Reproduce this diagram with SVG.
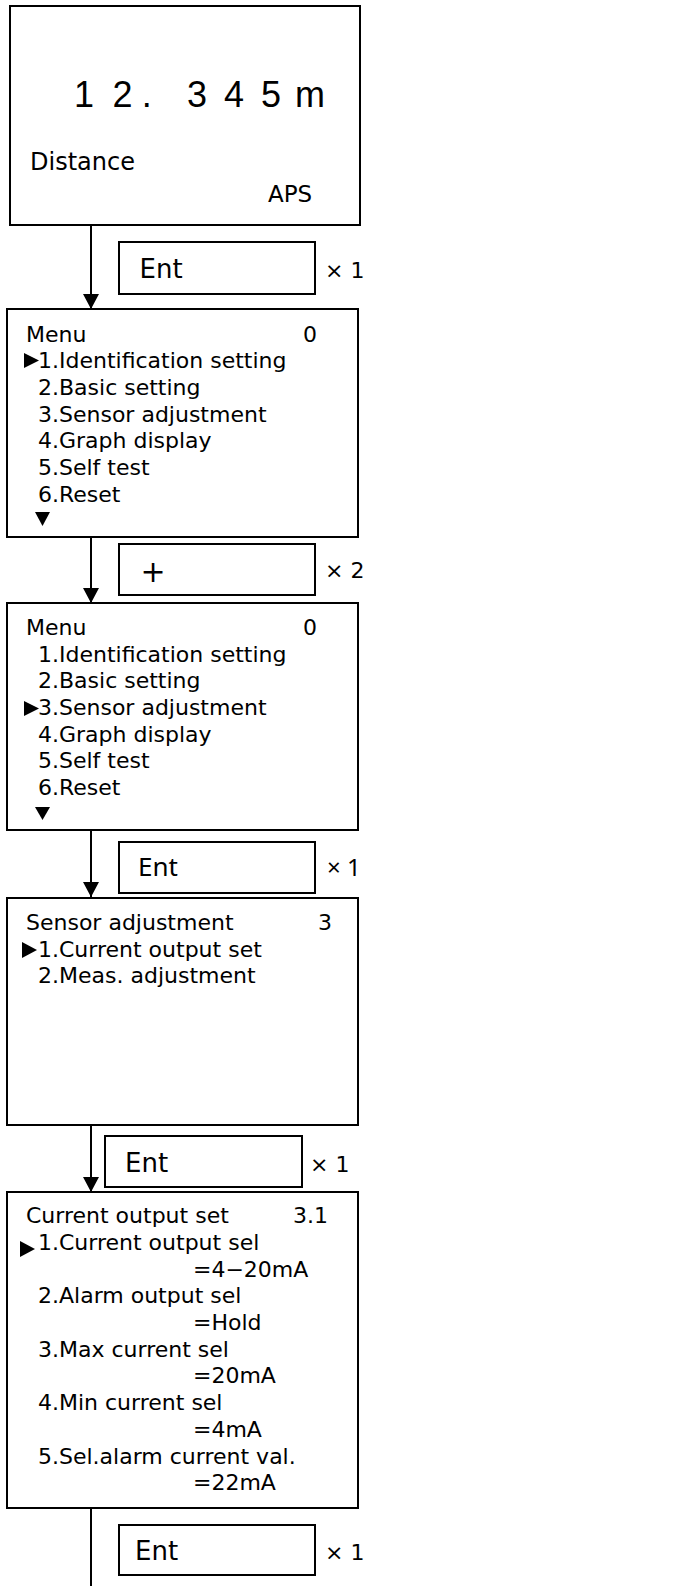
<svg xmlns="http://www.w3.org/2000/svg" width="683" height="1586" viewBox="0 0 683 1586">
<style>
.box{fill:#fff;stroke:#000;stroke-width:2}
.key{fill:#fff;stroke:#000;stroke-width:2}
.t{font-family:"DejaVu Sans",sans-serif;font-size:22px;fill:#000}
.k{font-family:"DejaVu Sans",sans-serif;font-size:26px;fill:#000}
.x{font-family:"DejaVu Sans",sans-serif;font-size:22px;fill:#000}
.kb{font-family:"Noto Sans",sans-serif;font-size:26px;fill:#000}
.xb{font-family:"Noto Sans",sans-serif;font-size:24px;fill:#000}
.big{font-family:"Liberation Sans",sans-serif;font-size:36px;fill:#000;text-anchor:middle}
.conn{stroke:#000;stroke-width:2;fill:none}
.mark{fill:#000}
</style>
<defs>
<marker id="ah" markerUnits="userSpaceOnUse" markerWidth="16" markerHeight="16" viewBox="0 0 16 16" refX="15" refY="8" orient="auto">
<path d="M0,0 L15,8 L0,16 Z" fill="#000"/>
</marker>
</defs>
<g id="connectors">
<line class="conn" x1="91" y1="225" x2="91" y2="309" marker-end="url(#ah)"/>
<line class="conn" x1="91" y1="537" x2="91" y2="603" marker-end="url(#ah)"/>
<line class="conn" x1="91" y1="830" x2="91" y2="897" marker-end="url(#ah)"/>
<line class="conn" x1="91" y1="1125" x2="91" y2="1192" marker-end="url(#ah)"/>
<line class="conn" x1="91" y1="1508" x2="91" y2="1586"/>
</g>
<g id="screen-distance">
<rect class="box" x="10" y="6" width="350" height="219"/>
<text class="big" y="107"><tspan x="84">1</tspan><tspan x="122.5">2</tspan><tspan x="146.7">.</tspan><tspan x="197">3</tspan><tspan x="234">4</tspan><tspan x="271">5</tspan><tspan x="310">m</tspan></text>
<text class="t" x="30" y="170" style="font-size:24px">Distance</text>
<text class="t" x="268" y="202" style="font-size:23px">APS</text>
</g>
<g id="key-ent-1">
<rect class="key" x="119" y="242" width="196" height="52"/>
<text class="k" x="139.5" y="278">Ent</text>
<text class="x" x="325" y="278">× 1</text>
</g>
<g id="screen-menu-1">
<rect class="box" x="7" y="309" width="351" height="228"/>
<text class="t" x="26" y="342">Menu</text>
<text class="t" x="303" y="342">0</text>
<polygon class="mark" points="24,353 39,360.5 24,368"/>
<text class="t" x="38" y="368">1.Identification setting</text>
<text class="t" x="38" y="395">2.Basic setting</text>
<text class="t" x="38" y="422">3.Sensor adjustment</text>
<text class="t" x="38" y="448">4.Graph display</text>
<text class="t" x="38" y="475">5.Self test</text>
<text class="t" x="38" y="502">6.Reset</text>
<polygon class="mark" points="35,512 50,512 42.5,526"/>
</g>
<g id="key-plus">
<rect class="key" x="119" y="544" width="196" height="51"/>
<text class="k" x="153" y="582" style="font-size:30px;text-anchor:middle">+</text>
<text class="x" x="325" y="578">× 2</text>
</g>
<g id="screen-menu-2">
<rect class="box" x="7" y="603" width="351" height="227"/>
<text class="t" x="26" y="635">Menu</text>
<text class="t" x="303" y="635">0</text>
<text class="t" x="38" y="662">1.Identification setting</text>
<text class="t" x="38" y="688">2.Basic setting</text>
<polygon class="mark" points="24,701 39,708.5 24,716"/>
<text class="t" x="38" y="715">3.Sensor adjustment</text>
<text class="t" x="38" y="742">4.Graph display</text>
<text class="t" x="38" y="768">5.Self test</text>
<text class="t" x="38" y="795">6.Reset</text>
<polygon class="mark" points="35,807 50,807 42.5,820"/>
</g>
<g id="key-ent-2">
<rect class="key" x="119" y="842" width="196" height="51"/>
<text class="kb" x="138" y="876">Ent</text>
<text class="xb" x="327" y="876">× 1</text>
</g>
<g id="screen-sensor-adjustment">
<rect class="box" x="7" y="898" width="351" height="227"/>
<text class="t" x="26" y="930">Sensor adjustment</text>
<text class="t" x="318" y="930">3</text>
<polygon class="mark" points="22,942 37,950 22,958"/>
<text class="t" x="38" y="957">1.Current output set</text>
<text class="t" x="38" y="983">2.Meas. adjustment</text>
</g>
<g id="key-ent-3">
<rect class="key" x="105" y="1136" width="197" height="51"/>
<text class="k" x="125" y="1172">Ent</text>
<text class="x" x="310" y="1172">× 1</text>
</g>
<g id="screen-current-output-set">
<rect class="box" x="7" y="1192" width="351" height="316"/>
<text class="t" x="26" y="1223">Current output set</text>
<text class="t" x="293" y="1223">3.1</text>
<polygon class="mark" points="20,1241 35,1249 20,1257"/>
<text class="t" x="38" y="1250">1.Current output sel</text>
<text class="t" x="193" y="1277">=4−20mA</text>
<text class="t" x="38" y="1303">2.Alarm output sel</text>
<text class="t" x="193" y="1330">=Hold</text>
<text class="t" x="38" y="1357">3.Max current sel</text>
<text class="t" x="193" y="1383">=20mA</text>
<text class="t" x="38" y="1410">4.Min current sel</text>
<text class="t" x="193" y="1437">=4mA</text>
<text class="t" x="38" y="1464">5.Sel.alarm current val.</text>
<text class="t" x="193" y="1490">=22mA</text>
</g>
<g id="key-ent-4">
<rect class="key" x="119" y="1525" width="196" height="50"/>
<text class="k" x="135" y="1560">Ent</text>
<text class="x" x="325" y="1560">× 1</text>
</g>
</svg>
